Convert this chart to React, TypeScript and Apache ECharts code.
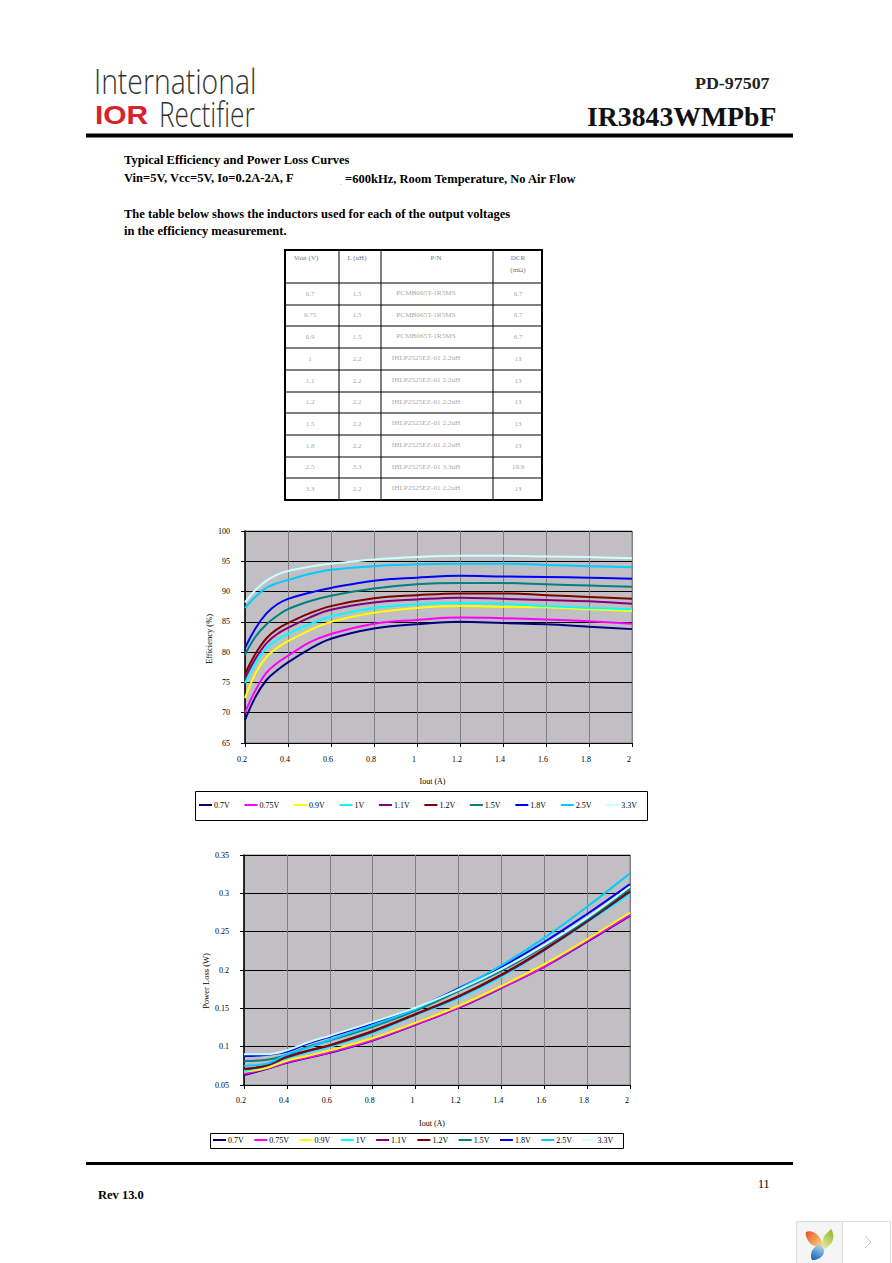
import React, { useEffect, useRef } from "react";
import * as echarts from "echarts";

const seriesNames = ["0.7V", "0.75V", "0.9V", "1V", "1.1V", "1.2V", "1.5V", "1.8V", "2.5V", "3.3V"];
const seriesColors = ["#000080", "#FF00FF", "#FFFF00", "#00FFFF", "#800080", "#800000", "#008080", "#0000FF", "#00CCFF", "#CCFFFF"];

const effX = [0.2, 0.25, 0.3, 0.35, 0.4, 0.5, 0.6, 0.8, 1, 1.2, 1.4, 1.6, 1.8, 2];
const eff07 = [68.8, 72.7, 75.4, 77.0, 78.3, 80.5, 82.2, 83.9, 84.6, 85.0, 84.8, 84.6, 84.2, 83.8];
const eff075 = [70.0, 73.8, 76.6, 78.2, 79.4, 81.6, 83.0, 84.7, 85.3, 85.7, 85.6, 85.4, 85.1, 84.7];
const eff09 = [72.4, 76.6, 79.2, 80.7, 81.8, 83.6, 85.0, 86.5, 87.3, 87.6, 87.5, 87.4, 87.1, 86.8];
const eff10 = [74.9, 78.2, 80.7, 82.0, 83.0, 84.6, 85.9, 87.3, 87.9, 88.1, 88.0, 87.6, 87.3, 87.1];
const eff11 = [75.7, 79.0, 81.5, 83.0, 84.0, 85.7, 87.0, 88.2, 88.7, 89.0, 88.8, 88.6, 88.4, 88.0];
const eff12 = [76.4, 79.8, 82.3, 83.8, 84.8, 86.4, 87.6, 88.9, 89.4, 89.7, 89.7, 89.4, 89.1, 88.8];
const eff15 = [79.6, 82.6, 84.6, 86.0, 87.1, 88.4, 89.3, 90.5, 91.2, 91.4, 91.4, 91.2, 91.0, 90.8];
const eff18 = [80.7, 84.0, 86.4, 87.9, 88.8, 89.8, 90.6, 91.8, 92.3, 92.6, 92.5, 92.4, 92.3, 92.1];
const eff25 = [87.3, 89.2, 90.6, 91.4, 91.9, 92.9, 93.6, 94.2, 94.5, 94.6, 94.6, 94.4, 94.2, 94.0];
const eff33 = [88.2, 90.3, 91.8, 92.8, 93.4, 94.1, 94.6, 95.3, 95.7, 95.9, 95.9, 95.8, 95.7, 95.5];

const lossX = [0.2, 0.3, 0.4, 0.5, 0.6, 0.8, 1, 1.2, 1.4, 1.6, 1.8, 2];
const loss07 = [0.063, 0.0705, 0.0790, 0.0855, 0.0920, 0.1080, 0.1285, 0.1505, 0.1765, 0.2040, 0.2370, 0.2705];
const loss075 = [0.0648, 0.0710, 0.0796, 0.0860, 0.0926, 0.1087, 0.1290, 0.1510, 0.1770, 0.2045, 0.2380, 0.2715];
const loss09 = [0.0674, 0.0717, 0.0817, 0.0880, 0.0952, 0.1110, 0.1310, 0.1530, 0.1790, 0.2075, 0.2400, 0.2750];
const loss10 = [0.0683, 0.0748, 0.0848, 0.0926, 0.1000, 0.1174, 0.1410, 0.1630, 0.1910, 0.2255, 0.2620, 0.2990];
const loss11 = [0.0709, 0.0750, 0.0860, 0.0945, 0.1015, 0.1195, 0.1420, 0.1650, 0.1930, 0.2260, 0.2630, 0.3020];
const loss12 = [0.0709, 0.0752, 0.0870, 0.0950, 0.1020, 0.1204, 0.1426, 0.1660, 0.1940, 0.2270, 0.2640, 0.3030];
const loss15 = [0.0813, 0.0826, 0.0891, 0.1000, 0.1080, 0.1260, 0.1470, 0.1725, 0.1990, 0.2305, 0.2660, 0.3065];
const loss18 = [0.0878, 0.0891, 0.0935, 0.1043, 0.1130, 0.1304, 0.1500, 0.1760, 0.2040, 0.2365, 0.2730, 0.3120];
const loss25 = [0.0752, 0.0774, 0.0900, 0.0987, 0.1090, 0.1280, 0.1490, 0.1750, 0.2060, 0.2420, 0.2825, 0.3260];
const loss33 = [0.0900, 0.0900, 0.0952, 0.1057, 0.1143, 0.1320, 0.1510, 0.1740, 0.2010, 0.2325, 0.2680, 0.3090];

const effSeries = [eff07, eff075, eff09, eff10, eff11, eff12, eff15, eff18, eff25, eff33];
const lossSeries = [loss07, loss075, loss09, loss10, loss11, loss12, loss15, loss18, loss25, loss33];

const tableHeader = ["Vout (V)", "L (uH)", "P/N", "DCR"];
const tableVout = ["0.7", "0.75", "0.9", "1", "1.1", "1.2", "1.5", "1.8", "2.5", "3.3"];
const tableL = ["1.5", "1.5", "1.5", "2.2", "2.2", "2.2", "2.2", "2.2", "3.3", "2.2"];
const tablePn = ["PCMB065T-1R5MS", "PCMB065T-1R5MS", "PCMB065T-1R5MS", "IHLP2525EZ-01 2.2uH", "IHLP2525EZ-01 2.2uH", "IHLP2525EZ-01 2.2uH", "IHLP2525EZ-01 2.2uH", "IHLP2525EZ-01 2.2uH", "IHLP2525EZ-01 3.3uH", "IHLP2525EZ-01 2.2uH"];
const tableDcr = ["6.7", "6.7", "6.7", "13", "13", "13", "13", "13", "19.9", "13"];

const SERIF = "'Liberation Serif', serif";

function txt(text: string, x: number, y: number, size: number, o: any = {}) {
  return {
    type: "text",
    x,
    y,
    scaleX: o.scaleX ?? 1,
    scaleY: o.scaleY ?? 1,
    z: 10,
    style: {
      text,
      x: 0,
      y: 0,
      fill: o.fill ?? "#000",
      font: `${o.weight ?? "normal"} ${size}px ${o.family ?? SERIF}`,
      textAlign: o.align ?? "left",
      textVerticalAlign: "middle",
    },
  };
}

function hline(x1: number, x2: number, y: number, lw: number, stroke = "#000") {
  return { type: "line", z: 9, shape: { x1, y1: y, x2, y2: y }, style: { stroke, lineWidth: lw } };
}
function vline(x: number, y1: number, y2: number, lw: number, stroke = "#000") {
  return { type: "line", z: 9, shape: { x1: x, y1, x2: x, y2 }, style: { stroke, lineWidth: lw } };
}

function pageGraphics() {
  const g: any[] = [];
  // logo and heading
  g.push(txt("International", 94, 80, 35, { family: "'Open Sans'", weight: "300", fill: "#333", scaleX: 0.81 }));
  g.push(txt("Rectifier", 159, 113, 35, { family: "'Open Sans'", weight: "300", fill: "#333", scaleX: 0.75 }));
  g.push(txt("IOR", 95, 115, 26, { family: "'Liberation Sans'", weight: "bold", fill: "#D8232A", scaleX: 1.15 }));
  g.push({ type: "polygon", z: 11, shape: { points: [[110, 111], [120, 111], [115, 119]] }, style: { fill: "#fff" } });
  g.push(txt("PD-97507", 695, 84, 16, { weight: "bold", fill: "#222", scaleX: 1.12 }));
  g.push(txt("IR3843WMPbF", 587, 116, 28, { weight: "bold", fill: "#111", scaleX: 0.99 }));
  g.push(hline(86, 793, 135.5, 4));

  // intro text
  const sx = { weight: "bold", scaleX: 1.045 };
  g.push(txt("Typical Efficiency and Power Loss Curves", 124, 160, 12, sx));
  g.push(txt("Vin=5V, Vcc=5V, Io=0.2A-2A, F", 124, 178, 12, sx));
  g.push(txt(",", 340, 182, 5, { fill: "#666" }));
  g.push(txt("=600kHz, Room Temperature, No Air Flow", 345, 179, 12, sx));
  g.push(txt("The table below shows the inductors used for each of the output voltages", 124, 214, 12, sx));
  g.push(txt("in the efficiency measurement.", 124, 231, 12, sx));

  // table
  const colLines = [285, 339, 381, 493, 542];
  const rowLines = [250, 283, 305, 326, 348, 370, 392, 413, 435, 457, 478, 500];
  colLines.forEach((x) => g.push(vline(x, 249, 501, x === 285 || x === 542 ? 2 : 1)));
  rowLines.forEach((y, i) => g.push(hline(284, 543, y, i === 0 || i === 11 ? 2 : 1)));
  const headX = [306, 357, 436, 518];
  const colX = [310, 357, 426, 518];
  tableHeader.forEach((h, i) => g.push(txt(h, headX[i], 258, 7, { align: "center", fill: "#777" })));
  g.push(txt("(mΩ)", 518, 270, 7, { align: "center", fill: "#777" }));
  tableVout.forEach((v, i) => {
    const y = (rowLines[i + 1] + rowLines[i + 2]) / 2 - 0.5;
    g.push(txt(v, colX[0], y, 7, { align: "center", fill: "#aaa" }));
    g.push(txt(tableL[i], colX[1], y, 7, { align: "center", fill: "#aaa" }));
    g.push(txt(tablePn[i], colX[2], y, 7, { align: "center", fill: "#aaa", scaleX: 1.03 }));
    g.push(txt(tableDcr[i], colX[3], y, 7, { align: "center", fill: "#aaa" }));
  });

  // legend frames
  g.push({ type: "rect", z: 1, shape: { x: 195.5, y: 791.5, width: 452, height: 29 }, style: { fill: "#fff", stroke: "#000", lineWidth: 1 } });
  g.push({ type: "rect", z: 1, shape: { x: 210.5, y: 1133.5, width: 413, height: 15 }, style: { fill: "#fff", stroke: "#000", lineWidth: 1 } });

  // footer
  g.push(hline(86, 793, 1163.5, 3));
  g.push(txt("Rev 13.0", 98, 1195, 12, { weight: "bold", scaleX: 1.04 }));
  g.push(txt("11", 758, 1184, 12));

  // viewer button
  g.push({ type: "rect", z: 1, shape: { x: 796.5, y: 1221.5, width: 46, height: 42 }, style: { fill: "#f5f5f5", stroke: "#ddd", lineWidth: 1 } });
  g.push({ type: "rect", z: 1, shape: { x: 842.5, y: 1221.5, width: 48, height: 42 }, style: { fill: "#fff", stroke: "#ddd", lineWidth: 1 } });
  g.push({
    type: "leaf", z: 5, x: 806, y: 1231,
    style: { fill: new echarts.graphic.LinearGradient(0, 0, 1, 0.6, [{ offset: 0, color: "#E8501C" }, { offset: 1, color: "#F8D27A" }]) },
  });
  g.push({
    type: "leafG", z: 5, x: 824, y: 1229,
    style: { fill: new echarts.graphic.LinearGradient(0.8, 0, 0.2, 1, [{ offset: 0, color: "#8DBB2C" }, { offset: 1, color: "#E8E59A" }]) },
  });
  g.push({
    type: "leafB", z: 5, x: 815, y: 1245,
    style: { fill: new echarts.graphic.LinearGradient(0.7, 0, 0.2, 1, [{ offset: 0, color: "#A8D4EE" }, { offset: 1, color: "#1565B5" }]) },
  });
  g.push({ type: "polyline", z: 5, shape: { points: [[865, 1236], [871, 1242], [865, 1248]] }, style: { stroke: "#ccc", lineWidth: 1, fill: "none" } });
  return g;
}

function axisLabel(margin: number, extra: any = {}) {
  return { fontFamily: SERIF, fontSize: 8, color: "#000", margin, ...extra };
}

export default function App() {
  const ref = useRef<HTMLDivElement>(null);
  useEffect(() => {
    echarts.graphic.registerShape("leaf", echarts.graphic.extendPath("M0 1 C4 -1 11 2 14 7 C16 10 17 13 18 16 C12 17 6 15 3 11 C1 8 -1 4 0 1 Z", {}));
    echarts.graphic.registerShape("leafG", echarts.graphic.extendPath("M7 0 C10 4 10 9 8 13 C6 16 3 19 0 20 C-2 15 -2 10 1 6 C3 4 5 2 7 0 Z", {}));
    echarts.graphic.registerShape("leafB", echarts.graphic.extendPath("M5 0 C9 2 10 6 8 10 C6 13 2 15 -3 15 C-5 11 -4 6 -1 3 C1 1 3 0 5 0 Z", {}));
    const chart = echarts.init(ref.current!, undefined, { renderer: "svg" });
    const grids = [
      { left: 245, top: 531, width: 387, height: 212 },
      { left: 244, top: 855, width: 386, height: 230 },
    ];
    const xAxis = (gridIndex: number, marginV: number, nameGap: number, pad: number) => ({
      type: "value",
      gridIndex,
      min: 0.2,
      max: 2,
      interval: 0.2,
      name: "Iout (A)",
      nameLocation: "middle",
      nameGap,
      nameTextStyle: { fontFamily: SERIF, fontSize: 8, color: "#000", padding: [0, pad, 0, 0] },
      axisLine: { show: true, onZero: false, lineStyle: { color: "#000", width: 1 } },
      axisTick: { show: true, length: 4, lineStyle: { color: "#000" } },
      axisLabel: axisLabel(marginV, { padding: [0, 6, 0, 0], showMinLabel: true, showMaxLabel: true }),
      splitLine: { show: true, lineStyle: { color: "#808080", width: 1 } },
    });
    const yAxis = (gridIndex: number, min: number, max: number, interval: number, name: string, nameGap: number, pad: number) => ({
      type: "value",
      gridIndex,
      min,
      max,
      interval,
      name,
      nameLocation: "middle",
      nameGap,
      nameTextStyle: { fontFamily: SERIF, fontSize: 8.5, color: "#000", padding: [0, pad, 0, 0] },
      axisLine: { show: true, onZero: false, lineStyle: { color: "#000", width: 1.5 } },
      axisTick: { show: true, length: 4, lineStyle: { color: "#000" } },
      axisLabel: axisLabel(15),
      splitLine: { show: true, lineStyle: { color: "#000", width: 1 } },
    });
    const makeSeries = (xs: number[], sets: number[][], idx: number) =>
      sets.map((vals, i) => ({
        name: seriesNames[i],
        type: "line",
        xAxisIndex: idx,
        yAxisIndex: idx,
        data: vals.map((v, k) => [xs[k], v]),
        smooth: 0.4,
        symbol: "none",
        clip: true,
        color: seriesColors[i],
        lineStyle: { color: seriesColors[i], width: 2 },
      }));
    const legend = (left: number, top: number, itemGap: number) => ({
      left,
      top,
      padding: 0,
      itemGap,
      itemWidth: 13,
      itemHeight: 2,
      icon: "rect",
      selectedMode: false,
      textStyle: { fontFamily: SERIF, fontSize: 8, color: "#000", padding: [0, 0, 0, -3] },
      data: seriesNames,
    });
    chart.setOption({
      animation: false,
      backgroundColor: "#fff",
      grid: grids.map((g) => ({ ...g, show: true, backgroundColor: "#C1BFC3", borderColor: "#808080", borderWidth: 1 })),
      xAxis: [xAxis(0, 12, 34, 12), xAxis(1, 11, 34, 10)],
      yAxis: [
        yAxis(0, 65, 100, 5, "Efficiency (%)", 32, 4),
        yAxis(1, 0.05, 0.35, 0.05, "Power Loss (W)", 34, 22),
      ],
      legend: [legend(199, 801, 14.7), legend(213, 1136, 10.5)],
      series: [...makeSeries(effX, effSeries, 0), ...makeSeries(lossX, lossSeries, 1)],
      graphic: { elements: pageGraphics() },
    });
    return () => chart.dispose();
  }, []);
  return <div ref={ref} style={{ position: "absolute", left: 0, top: 0, width: 892, height: 1263, background: "#fff" }} />;
}
